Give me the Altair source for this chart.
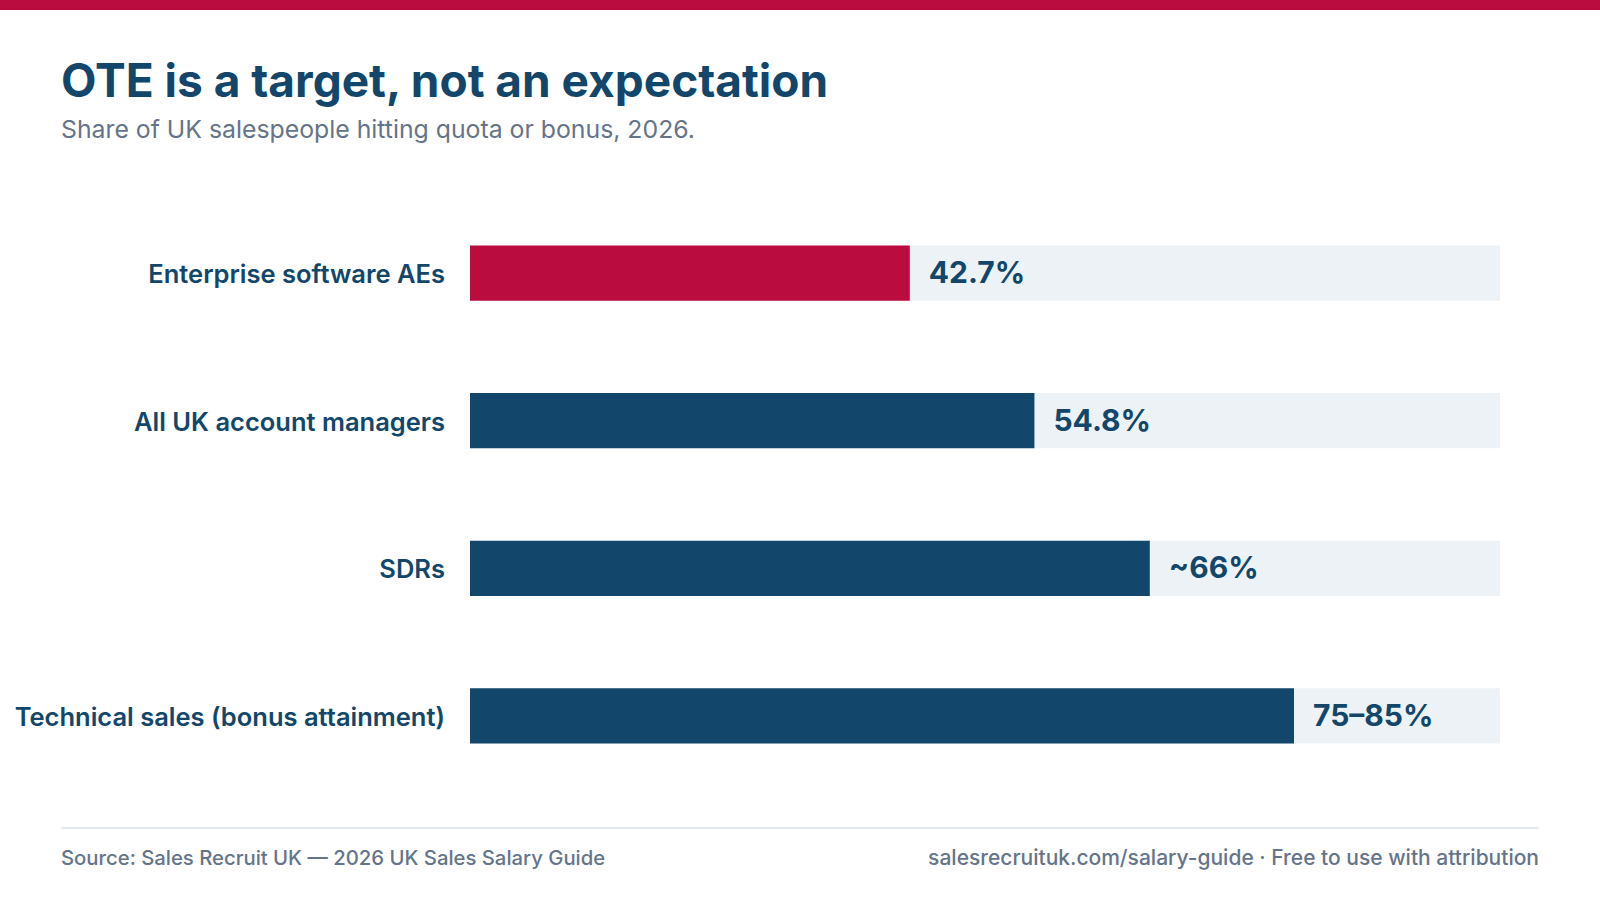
import altair as alt
import pandas as pd

# ---- data ----
categories = [
    "Enterprise software AEs",
    "All UK account managers",
    "SDRs",
    "Technical sales (bonus attainment)",
]
values = [42.7, 54.8, 66, 80]
value_labels = ["42.7%", "54.8%", "~66%", "75–85%"]
highlight = [True, False, False, False]
track_max = 100

title_text = "OTE is a target, not an expectation"
subtitle_text = "Share of UK salespeople hitting quota or bonus, 2026."
source_text = "Source: Sales Recruit UK — 2026 UK Sales Salary Guide"
credit_text = "salesrecruituk.com/salary-guide · Free to use with attribution"

# ---- styles ----
RED = "#BA0C3F"
NAVY = "#12476B"
TRACK = "#EDF2F7"
GREY = "#64748B"
RULE = "#E2E8F0"
FONT = "Inter"

W, H = 1600, 900

df = pd.DataFrame({
    "category": categories,
    "value": values,
    "label": value_labels,
    "highlight": highlight,
    "track": [track_max] * len(categories),
})
one = pd.DataFrame({"k": [0]})

xscale = alt.Scale(domain=[0, track_max], range=[470, 1500], nice=False, zero=True)
yscale = alt.Scale(domain=categories, range=[245.5, 743.5], paddingInner=0.626, paddingOuter=0)

Y = alt.Y("category:N", scale=yscale, sort=categories, axis=None)

top_bar = alt.Chart(one).mark_rect(color=RED).encode(
    x=alt.value(0), x2=alt.value(W), y=alt.value(0), y2=alt.value(10)
)

title = alt.Chart(one).mark_text(
    text=title_text, font=FONT, fontSize=46, fontWeight=700, color=NAVY,
    align="left", baseline="alphabetic"
).encode(x=alt.value(61), y=alt.value(97))

subtitle = alt.Chart(one).mark_text(
    text=subtitle_text, font=FONT, fontSize=24.8, fontWeight=400, color=GREY,
    align="left", baseline="alphabetic"
).encode(x=alt.value(61), y=alt.value(138))

track = alt.Chart(df).mark_bar(color=TRACK).encode(
    x=alt.X("track:Q", scale=xscale, axis=None),
    y=Y,
)

bars = alt.Chart(df).mark_bar().encode(
    x=alt.X("value:Q", scale=xscale, axis=None),
    y=Y,
    color=alt.condition("datum.highlight", alt.value(RED), alt.value(NAVY)),
)

vlabels = alt.Chart(df).mark_text(
    font=FONT, fontSize=30, fontWeight=700, color=NAVY,
    align="left", baseline="middle", dx=19, dy=1
).encode(
    x=alt.X("value:Q", scale=xscale, axis=None),
    y=Y,
    text="label:N",
)

clabels = alt.Chart(df).mark_text(
    font=FONT, fontSize=25.5, fontWeight=600, color=NAVY,
    align="right", baseline="middle", dy=2
).encode(
    x=alt.value(445),
    y=Y,
    text="category:N",
)

rule = alt.Chart(one).mark_rule(color=RULE, strokeWidth=2).encode(
    x=alt.value(61), x2=alt.value(1539), y=alt.value(828)
)

source = alt.Chart(one).mark_text(
    text=source_text, font=FONT, fontSize=20.3, fontWeight=500, color=GREY,
    align="left", baseline="middle"
).encode(x=alt.value(61), y=alt.value(859))

credit = alt.Chart(one).mark_text(
    text=credit_text, font=FONT, fontSize=21, fontWeight=500, color=GREY,
    align="right", baseline="middle"
).encode(x=alt.value(1539), y=alt.value(859))

chart = alt.layer(
    top_bar, title, subtitle, track, bars, vlabels, clabels, rule, source, credit
).properties(
    width=W, height=H, autosize=alt.AutoSizeParams(type="none"), padding=0,
    background="white",
).configure_view(stroke=None)

chart.save("out.html", embed_options={"renderer": "svg", "actions": False})
